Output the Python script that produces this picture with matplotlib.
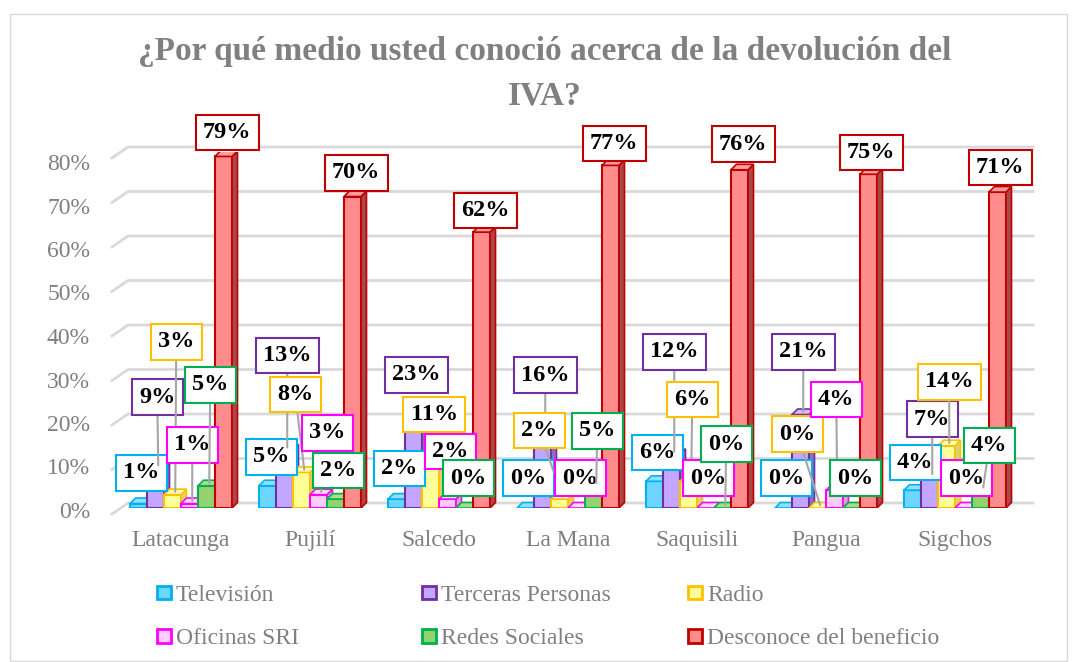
import matplotlib
matplotlib.use("Agg")
import matplotlib.pyplot as plt
from matplotlib.patches import Polygon, Patch, Rectangle
from matplotlib.transforms import ScaledTranslation

plt.rcParams['font.family'] = ['Liberation Serif', 'DejaVu Serif']

# region Source Data
categories = ["Latacunga", "Pujilí", "Salcedo", "La Mana", "Saquisili", "Pangua", "Sigchos"]
series_names = ["Televisión", "Terceras Personas", "Radio", "Oficinas SRI",
                "Redes Sociales", "Desconoce del beneficio"]

television = [1, 5, 2, 0, 6, 0, 4]
terceras_personas = [9, 13, 23, 16, 12, 21, 7]
radio = [3, 8, 11, 2, 6, 0, 14]
oficinas_sri = [1, 3, 2, 0, 0, 4, 0]
redes_sociales = [5, 2, 0, 5, 0, 0, 4]
desconoce = [79, 70, 62, 77, 76, 75, 71]

y_ticks = [0, 10, 20, 30, 40, 50, 60, 70, 80]
# endregion

series = [television, terceras_personas, radio, oficinas_sri, redes_sociales, desconoce]

face_colors = ["#6DD6FF", "#C3A6FF", "#FFFF99", "#FFCCFF", "#92D36E", "#FF8C8C"]
edge_colors = ["#00B0F0", "#7030A0", "#FFC000", "#FF00FF", "#00B050", "#C00000"]
side_colors = ["#45A9D0", "#8E6CC4", "#D6D670", "#D9A5D9", "#6DA64E", "#A84848"]
top_colors = ["#8FE0FF", "#D3BDFF", "#FFFFB8", "#FFDDFF", "#A9DD8C", "#FF9E9E"]

# label box offsets from the bar top, in pixels (dx, dy)
label_offsets = [
    [(0, 28), (1, 26), (0, 28), (0, 27), (0, 26), (0, 27), (0, 25)],
    [(-1, 68), (0, 92), (0, 28), (0, 59), (0, 100), (0, 60), (0, 55)],
    [(1, 150), (-9, 75), (1, 42), (-23, 66), (1, 79), (-23, 71), (0, 61)],
    [(0, 56), (6, 59), (0, 45), (1, 27), (0, 27), (-1, 88), (0, 27)],
    [(1, 98), (0, 26), (1, 27), (1, 52), (1, 61), (1, 27), (6, 42)],
    [(1, 21), (1, 21), (1, 19), (1, 19), (1, 23), (0, 19), (0, 22)],
]

fig = plt.figure(figsize=(10.73, 6.62), dpi=100)
ax = fig.add_axes([116.5 / 1073, 154 / 662, 903 / 1073, 356 / 662])
ax.set_xlim(-0.5, 6.5)
ax.set_ylim(0, 80)

px_x = 1 / 129.0   # data units per pixel, x
px_y = 1 / 4.45    # data units per pixel, y
width = 17 * px_x
depth_x = 5.5 * px_x
depth_y = 5.5 * px_y


def px_to_data(x, y):
    return (x - 181) * px_x, (508 - y) * px_y


# back wall gridlines with the short slanted floor edge on the left
for v in y_ticks:
    y_back = 508 - 4.45 * v - 5
    x0, y0 = px_to_data(112, y_back + 11)
    x1, y1 = px_to_data(128, y_back)
    x2, y2 = px_to_data(1033, y_back)
    ax.plot([x0, x1, x2], [y0, y1, y2], color="#D9D9D9", lw=2, clip_on=False, zorder=0)

# bars: front face, right side and top cap
for j, values in enumerate(series):
    for i, v in enumerate(values):
        xc = i + (j - 2.5) * width
        xl, xr = xc - width / 2, xc + width / 2
        ax.add_patch(Rectangle((xl, 0), width, v, fc=face_colors[j], ec=edge_colors[j],
                               lw=1.5, zorder=2))
        ax.add_patch(Polygon([(xr, 0), (xr + depth_x, depth_y), (xr + depth_x, v + depth_y), (xr, v)],
                             fc=side_colors[j], ec=edge_colors[j], lw=1.2, zorder=2))
        ax.add_patch(Polygon([(xl, v), (xr, v), (xr + depth_x, v + depth_y), (xl + depth_x, v + depth_y)],
                             fc=top_colors[j], ec=edge_colors[j], lw=1.2, zorder=2))

# data labels with leader lines
for j, values in enumerate(series):
    for i, v in enumerate(values):
        xc = i + (j - 2.5) * width
        dx, dy = label_offsets[j][i]
        leader = None
        if dy > 40 or abs(dx) > 15:
            leader = dict(arrowstyle="-", color="#A6A6A6", lw=1.5, shrinkA=0, shrinkB=0)
        ax.annotate(f"{v}%", xy=(xc + depth_x / 2, v + depth_y / 2), xytext=(dx, dy),
                    textcoords="offset pixels", ha="center", va="center",
                    fontsize=17.5, fontweight="bold", color="black",
                    bbox=dict(boxstyle="square,pad=0.3", fc="white", ec=edge_colors[j], lw=1.5),
                    arrowprops=leader, annotation_clip=False, zorder=5 + j)

for s in ax.spines.values():
    s.set_visible(False)
ax.tick_params(length=0)
ax.set_xticks(range(len(categories)))
ax.set_xticklabels(categories, fontsize=17, color="#7F7F7F")
ax.tick_params(axis="x", pad=16)
ax.set_yticks(y_ticks)
ax.set_yticklabels([f"{v}%" for v in y_ticks], fontsize=17, color="#7F7F7F")
ax.tick_params(axis="y", pad=19)
# value labels sit a little below the front edge, more so higher up
for v, lbl in zip(y_ticks, ax.get_yticklabels()):
    shift = ScaledTranslation(0, -(2 + 0.1 * v) / 100, fig.dpi_scale_trans)
    lbl.set_transform(lbl.get_transform() + shift)

fig.text(545 / 1073, 1 - 74 / 662, "¿Por qué medio usted conoció acerca de la devolución del\nIVA?",
         ha="center", va="center", fontsize=24, fontweight="bold", color="#808080", linespacing=1.55)

# legend split in three equal columns
columns = [(0, 3), (1, 4), (2, 5)]
col_x = [157, 422, 688]
for (a, b), cx in zip(columns, col_x):
    handles = [Patch(fc=face_colors[k], ec=edge_colors[k], lw=2) for k in (a, b)]
    fig.legend(handles, [series_names[a], series_names[b]], loc="center left",
               bbox_to_anchor=(cx / 1073, 1 - 617 / 662), frameon=False, fontsize=17,
               labelcolor="#808080", handlelength=0.6, handleheight=0.5, handletextpad=0.2,
               labelspacing=0.95, borderpad=0, borderaxespad=0)

fig.patches.append(Rectangle((10 / 1073, 1 / 662), 1057 / 1073, 647 / 662, transform=fig.transFigure,
                             fill=False, ec="#D9D9D9", lw=1))

fig.savefig("out.png", dpi=100)
